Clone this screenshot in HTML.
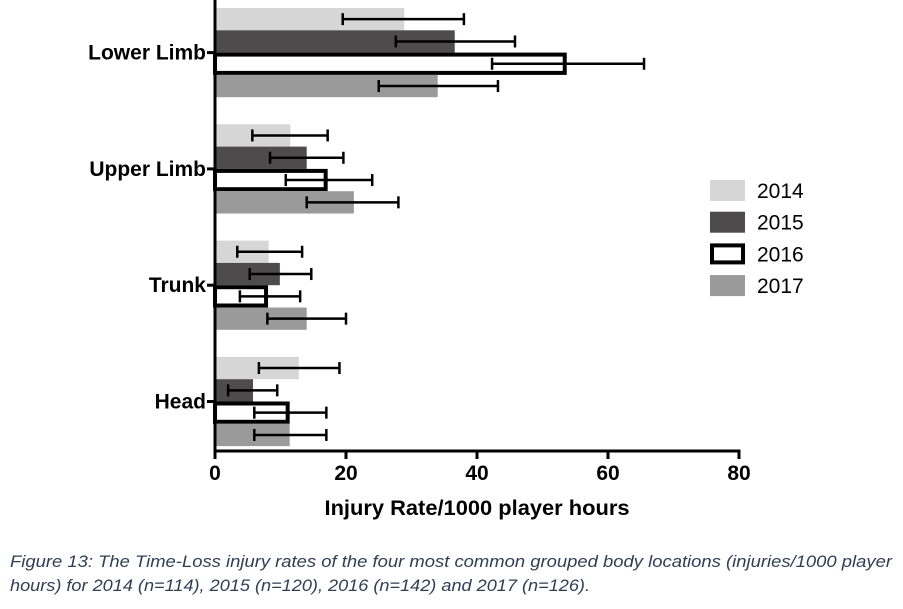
<!DOCTYPE html>
<html><head><meta charset="utf-8"><style>
html,body{margin:0;padding:0;background:#fff;}
svg{display:block;font-family:"Liberation Sans",Arial,sans-serif;}
</style></head><body>
<svg id="chart" width="903" height="609" viewBox="0 0 903 609" xmlns="http://www.w3.org/2000/svg">
<g id="bars"></g>
<g id="axes"></g>
<g id="legend"></g>
<text x="477" y="515" text-anchor="middle" font-weight="bold" font-size="21.5" textLength="305" lengthAdjust="spacingAndGlyphs">Injury Rate/1000 player hours</text>
<text x="10" y="567" font-style="italic" font-size="17" fill="#2e3f55" textLength="882" lengthAdjust="spacingAndGlyphs">Figure 13: The Time-Loss injury rates of the four most common grouped body locations (injuries/1000 player</text>
<text x="10" y="591" font-style="italic" font-size="17" fill="#2e3f55" textLength="580" lengthAdjust="spacingAndGlyphs">hours) for 2014 (n=114), 2015 (n=120), 2016 (n=142) and 2017 (n=126).</text>
</svg>
<script>
const categories = ["Lower Limb","Upper Limb","Trunk","Head"];
const years = ["2014","2015","2016","2017"];
const values2014 = [28.9, 11.5, 8.2, 12.8];
const values2015 = [36.6, 14.0, 9.9, 5.8];
const values2016 = [53.7, 17.2, 8.1, 11.4];
const values2017 = [34.0, 21.2, 14.0, 11.4];
const errLow2014 = [19.5, 5.7, 3.4, 6.7];
const errHigh2014 = [38.0, 17.2, 13.3, 19.0];
const errLow2015 = [27.6, 8.4, 5.3, 2.0];
const errHigh2015 = [45.8, 19.6, 14.7, 9.5];
const errLow2016 = [42.3, 10.8, 3.8, 6.0];
const errHigh2016 = [65.5, 24.0, 13.0, 17.0];
const errLow2017 = [25.0, 14.0, 8.0, 6.0];
const errHigh2017 = [43.2, 28.0, 20.0, 17.0];
const xTicks = [0, 20, 40, 60, 80];

const NS = "http://www.w3.org/2000/svg";
const x0 = 215, x1 = 739, xMax = 80;
const xScale = v => x0 + (v / xMax) * (x1 - x0);
const groupTop = 8, groupPitch = 116.3, barH = 22.3;
const yBar = (ci, si) => groupTop + ci * groupPitch + si * barH;
const series = [
  {vals: values2014, lo: errLow2014, hi: errHigh2014, fill: "#d6d6d6", stroke: null},
  {vals: values2015, lo: errLow2015, hi: errHigh2015, fill: "#4d4b4c", stroke: null},
  {vals: values2016, lo: errLow2016, hi: errHigh2016, fill: "#ffffff", stroke: "#000"},
  {vals: values2017, lo: errLow2017, hi: errHigh2017, fill: "#9a9a9a", stroke: null}
];
function mk(tag, attrs, parent) {
  const e = document.createElementNS(NS, tag);
  for (const k in attrs) e.setAttribute(k, attrs[k]);
  parent.appendChild(e);
  return e;
}
const bars = document.getElementById("bars");
categories.forEach((c, ci) => {
  series.forEach((s, si) => {
    const y = yBar(ci, si);
    const w = xScale(s.vals[ci]) - x0;
    let r;
    if (s.stroke) {
      r = mk("rect", {x: x0, y: y + 2, width: w - 2, height: barH - 4, fill: s.fill, stroke: "#000", "stroke-width": 4}, bars);
    } else {
      r = mk("rect", {x: x0, y: y, width: w, height: barH, fill: s.fill}, bars);
    }
    
    
    const ym = y + barH / 2;
    const g = mk("g", {stroke: "#000", "stroke-width": 2.5}, bars);
    
    
    const xl = xScale(s.lo[ci]), xh = xScale(s.hi[ci]);
    mk("line", {x1: xl, x2: xh, y1: ym, y2: ym}, g);
    mk("line", {x1: xl, x2: xl, y1: ym - 6, y2: ym + 6}, g);
    mk("line", {x1: xh, x2: xh, y1: ym - 6, y2: ym + 6}, g);
  });
});
const axes = document.getElementById("axes");
const yAxis = mk("line", {x1: x0, x2: x0, y1: 0, y2: 452, stroke: "#000", "stroke-width": 3}, axes);


const xAxis = mk("line", {x1: x0 - 1.5, x2: x1 + 1.5, y1: 451, y2: 451, stroke: "#000", "stroke-width": 3}, axes);


xTicks.forEach(t => {
  const x = xScale(t);
  const tk = mk("line", {x1: x, x2: x, y1: 451, y2: 459, stroke: "#000", "stroke-width": 3}, axes);
  
  
  const tl = mk("text", {x: x, y: 480, "text-anchor": "middle", "font-weight": "bold", "font-size": 21}, axes);
  tl.textContent = t;
  
  
});
categories.forEach((c, ci) => {
  const yc = groupTop + ci * groupPitch + 2 * barH;
  const tk = mk("line", {x1: x0 - 8, x2: x0, y1: yc, y2: yc, stroke: "#000", "stroke-width": 3}, axes);
  
  
  const tl = mk("text", {x: 206, y: yc + 7, "text-anchor": "end", "font-weight": "bold", "font-size": 21}, axes);
  tl.textContent = c;
  
  
});
const legend = document.getElementById("legend");
years.forEach((yr, i) => {
  const y = 180 + i * 31.7;
  const s = series[i];
  const g = mk("g", {}, legend);
  
  
  if (s.stroke) mk("rect", {x: 712, y: y + 2, width: 31, height: 17, fill: "#fff", stroke: "#000", "stroke-width": 4}, g);
  else mk("rect", {x: 710, y: y, width: 35, height: 21, fill: s.fill}, g);
  const t = mk("text", {x: 757, y: y + 18, "font-size": 21}, g);
  t.textContent = yr;
});
</script>
</body></html>
